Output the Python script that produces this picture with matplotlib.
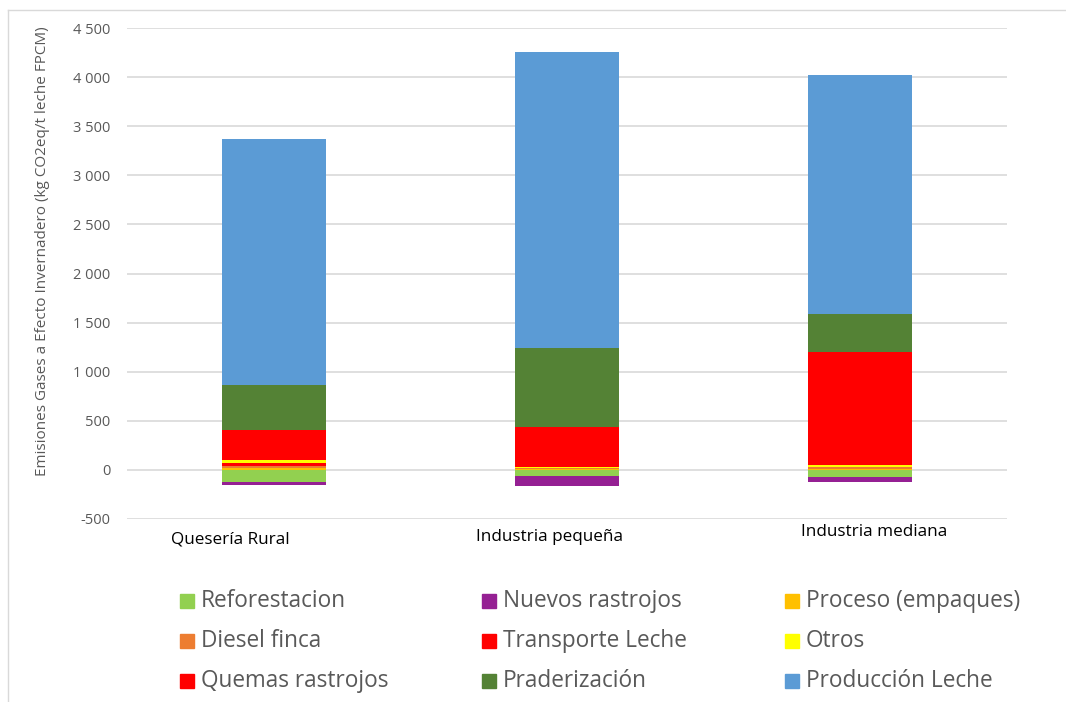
import matplotlib
matplotlib.use('Agg')
import matplotlib.pyplot as plt
import matplotlib.transforms as mtransforms
from matplotlib.patches import Rectangle
from matplotlib.lines import Line2D
from matplotlib.ticker import FuncFormatter
import numpy as np

plt.rcParams['font.family'] = ['Open Sans', 'DejaVu Sans']

categories = ['Quesería Rural', 'Industria pequeña', 'Industria mediana']

# series in stacking order (kg CO2eq / t leche FPCM)
series_names = ['Reforestacion', 'Nuevos rastrojos', 'Proceso (empaques)',
                'Diesel finca', 'Transporte Leche', 'Otros',
                'Quemas rastrojos', 'Praderización', 'Producción Leche']
reforestacion = [-120, -65, -75]
nuevos_rastrojos = [-30, -100, -45]
proceso = [20, 12, 5]
diesel = [20, 5, 20]
transporte = [30, 5, 5]
otros = [30, 5, 20]
quemas = [310, 414, 1148]
praderizacion = [458, 801, 387]
produccion = [2502, 3013, 2436]

colors = ['#92D050', '#952093', '#FFC000', '#ED7D31', '#FF0000',
          '#FFFF00', '#FF0000', '#548235', '#5B9BD5']

values = [reforestacion, nuevos_rastrojos, proceso, diesel, transporte,
          otros, quemas, praderizacion, produccion]

fig = plt.figure(figsize=(10.66, 7.02), dpi=100)
W, H = 1066, 702
ax = fig.add_axes([127 / W, 1 - 519 / H, 880 / W, 491 / H])

x = np.arange(len(categories))
pos_base = np.zeros(len(categories))
neg_base = np.zeros(len(categories))
for name, vals, c in zip(series_names, values, colors):
    vals = np.array(vals, dtype=float)
    bottom = np.where(vals >= 0, pos_base, neg_base)
    ax.bar(x, vals, 0.355, bottom=bottom, color=c, zorder=3)
    pos_base += np.where(vals >= 0, vals, 0)
    neg_base += np.where(vals < 0, vals, 0)

ax.set_xlim(-0.5, 2.5)
ax.set_ylim(-500, 4500)
ax.set_yticks(np.arange(-500, 4501, 500))
ax.yaxis.set_major_formatter(FuncFormatter(lambda v, p: '{:,.0f}'.format(v).replace(',', ' ')))
ax.grid(axis='y', color='#D9D9D9', linewidth=1.2, zorder=0)
for s in ax.spines.values():
    s.set_visible(False)
ax.tick_params(axis='y', length=0, labelsize=10.5, labelcolor='#595959', pad=12)
ax.set_xticks([])

ax.set_ylabel('Emisiones Gases a Efecto Invernadero (kg CO2eq/t leche FPCM)',
              fontsize=11, color='#595959')
ax.yaxis.set_label_coords(-0.088, 0.545)

# category labels (slightly offset as in the original)
label_x = [-0.149, 0.942, 2.047]
label_y = [540, 537, 532]
tr = mtransforms.blended_transform_factory(ax.transData, fig.transFigure)
for lx, ly, cat in zip(label_x, label_y, categories):
    ax.text(lx, 1 - ly / H, cat, transform=tr,
            ha='center', va='center', fontsize=12.3, color='black')

# legend, row-major in 3 columns
col_x = [180, 482, 785]
row_y = [601, 641, 681]
for i, (name, c) in enumerate(zip(series_names, colors)):
    r, k = divmod(i, 3)
    px, py = col_x[k], row_y[r]
    fig.add_artist(Rectangle((px / W, 1 - (py + 7) / H), 14 / W, 14 / H,
                             transform=fig.transFigure, color=c))
    fig.text((px + 21) / W, 1 - py / H, name, ha='left', va='center',
             fontsize=16.3, color='#595959')

# chart border
fig.add_artist(Line2D([8 / W, 1], [1 - 10 / H, 1 - 10 / H], transform=fig.transFigure,
                      color='#D9D9D9', linewidth=1))
fig.add_artist(Line2D([8 / W, 8 / W], [0, 1 - 10 / H], transform=fig.transFigure,
                      color='#D9D9D9', linewidth=1))

fig.savefig('out.png', dpi=100)
